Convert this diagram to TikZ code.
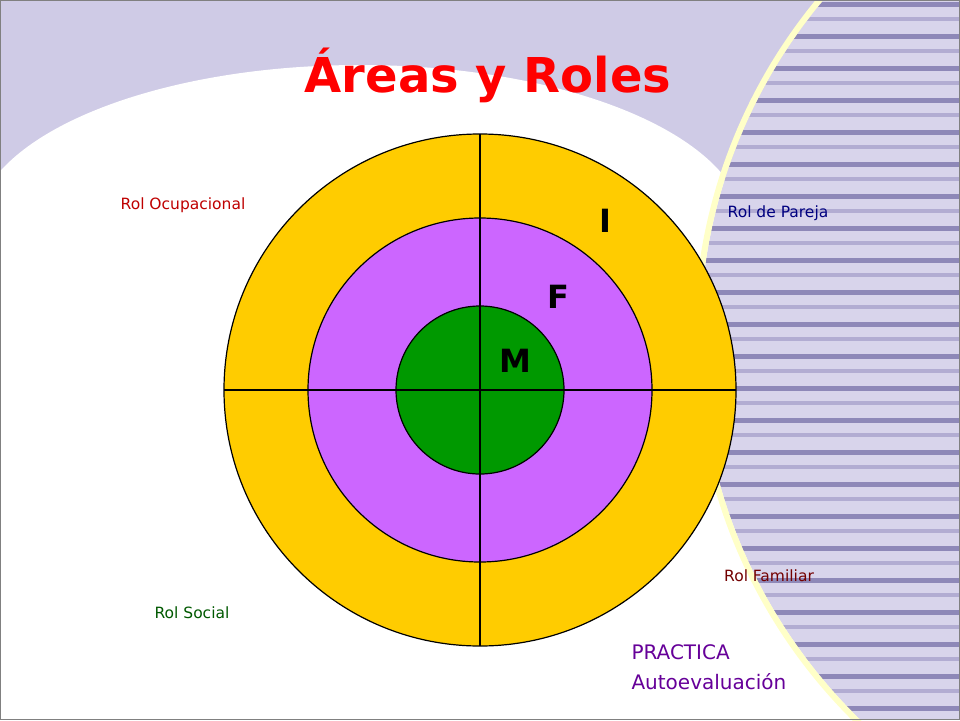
\documentclass[tikz,border=0pt]{standalone}
\usepackage{fontspec}
\setmainfont{DejaVu Sans}
\usetikzlibrary{positioning}
\definecolor{lav}{HTML}{CFCBE6}
\definecolor{stripebase}{HTML}{D8D4EB}
\definecolor{stripedark}{HTML}{8E88B8}
\definecolor{stripemid}{HTML}{B2ACD2}
\definecolor{cream}{HTML}{FFFFC8}
\definecolor{ringgold}{HTML}{FFCC00}
\definecolor{ringviolet}{HTML}{CC66FF}
\definecolor{ringgreen}{HTML}{009900}
\tikzset{
  rol/.style={font=\fontsize{15.5}{18}\selectfont},
  letra/.style={font=\bfseries\fontsize{32}{34}\selectfont},
  ring/.style={draw=black, line width=1.2pt}
}
\begin{document}
\begin{tikzpicture}[x=1pt, y=-1pt]
  \useasboundingbox (0,0) rectangle (960,720);
  % background
  \fill[lav] (0,0) rectangle (960,720);
  \fill[white] (-25,230) rectangle (960,720);
  \fill[white] (360,230) ellipse [x radius=385, y radius=165];
  \begin{scope}
    \clip (1230,340) circle [radius=530];
    \fill[stripebase] (600,0) rectangle (960,720);
    \foreach \y in {0,32,...,704} {
      \fill[stripedark] (600,\y+2) rectangle (960,\y+7);
      \fill[stripemid] (600,\y+17) rectangle (960,\y+21);
    }
  \end{scope}
  \draw[cream, line width=6pt] (1230,340) circle [radius=533];
  \draw[gray, line width=1pt] (0.5,0.5) rectangle (959.5,719.5);
  % title
  \node[text=red, font=\bfseries\fontsize{48}{52}\selectfont] (titulo) at (488,75) {Áreas y Roles};
  % rings
  \coordinate (centro) at (480,390);
  \filldraw[ring, fill=ringgold] (centro) circle [radius=256];
  \filldraw[ring, fill=ringviolet] (centro) circle [radius=172];
  \filldraw[ring, fill=ringgreen] (centro) circle [radius=84];
  \coordinate (arriba) at (480,134);
  \coordinate (abajo) at (480,646);
  \coordinate (izq) at (224,390);
  \coordinate (der) at (736,390);
  \draw[line width=1.2pt] (arriba) -- (abajo);
  \draw[line width=1.2pt] (izq) -- (der);
  % letters
  \node[letra] (li) at (605,221) {I};
  \node[letra] (lf) at (558,297) {F};
  \node[letra] (lm) at (515,361) {M};
  % roles
  \node[rol, text=red!75!black] (ocup) at (183,205) {Rol Ocupacional};
  \node[rol, text=blue!50!black] (pareja) at (778,213) {Rol de Pareja};
  \node[rol, text=red!45!black] (familiar) at (769,576) {Rol Familiar};
  \node[rol, text=green!35!black] (social) at (192,613) {Rol Social};
  \node[text=violet!80!blue, font=\fontsize{20}{30}\selectfont, align=left, anchor=west] (practica) at (628,667) {PRACTICA\\Autoevaluación};
\end{tikzpicture}
\end{document}
